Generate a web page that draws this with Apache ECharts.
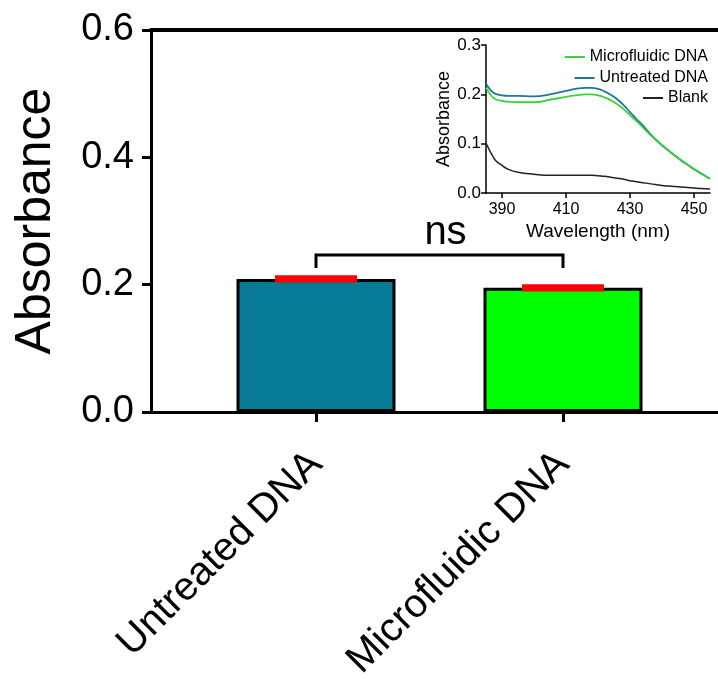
<!DOCTYPE html>
<html>
<head>
<meta charset="utf-8">
<script src="https://cdn.jsdelivr.net/npm/echarts@6/dist/echarts.min.js"></script>
<style>
  html, body { margin: 0; padding: 0; background: #fff; }
  #chart { width: 718px; height: 679px; }
</style>
</head>
<body>
<div id="chart"></div>
<script>
// bar chart data
const categories = ["Untreated DNA", "Microfluidic DNA"];
const barMeans = [0.209, 0.195];
const barErrors = [0.0025, 0.0025];
const barColors = ["#077b96", "#00ff00"];
const yTicks = [0, 0.2, 0.4, 0.6];
// significance bracket: [fromIndex, toIndex, topLevel, footLevel, label]
const bracket = [1, 2, 0.2466, 0.226, "ns"];

// inset spectra
const wavelengths = [385, 386, 387, 388, 390, 392, 395, 400, 405, 410, 413, 416, 418, 420, 422, 424,
  426, 428, 430, 432, 434, 436, 438, 440, 442, 444, 446, 448, 450, 452, 455];
const untreated = [0.222, 0.212, 0.205, 0.201, 0.198, 0.197, 0.197, 0.196, 0.200, 0.207, 0.211, 0.213,
  0.213, 0.211, 0.206, 0.199, 0.190, 0.178, 0.164, 0.150, 0.137, 0.122, 0.109, 0.097, 0.086, 0.076,
  0.066, 0.057, 0.048, 0.040, 0.029];
const microfluidic = [0.213, 0.203, 0.195, 0.190, 0.187, 0.185, 0.184, 0.184, 0.189, 0.195, 0.198, 0.200,
  0.200, 0.198, 0.194, 0.188, 0.180, 0.170, 0.158, 0.146, 0.133, 0.120, 0.108, 0.096, 0.086, 0.076,
  0.067, 0.058, 0.049, 0.041, 0.029];
const blank = [0.101, 0.088, 0.076, 0.066, 0.056, 0.048, 0.042, 0.038, 0.036, 0.036, 0.036, 0.036,
  0.036, 0.035, 0.034, 0.032, 0.030, 0.028, 0.025, 0.023, 0.021, 0.019, 0.017, 0.015, 0.014, 0.013,
  0.012, 0.011, 0.010, 0.009, 0.008];
const insetXTicks = [390, 410, 430, 450];

const font = "Liberation Sans, Arial, sans-serif";
const catPos = categories.map((c, i) => i + 1);

const chart = echarts.init(document.getElementById("chart"), null, { renderer: "canvas" });

const pair = (ys) => wavelengths.map((w, i) => [w, ys[i]]);

const legendItem = (name, top) => ({
  data: [name], right: 5, top: top,
  icon: "rect", itemWidth: 20, itemHeight: 2,
  textStyle: { fontSize: 16, color: "#000", fontFamily: font },
});

const option = {
  animation: false,
  backgroundColor: "#fff",
  textStyle: { fontFamily: font, color: "#000" },
  grid: [
    { left: 151, top: 30, right: 0, bottom: 267, outerBoundsMode: "none", containLabel: false },
    { left: 486, top: 45, width: 224, height: 148, outerBoundsMode: "none", containLabel: false },
  ],
  xAxis: [
    {
      type: "value",
      gridIndex: 0,
      min: 0.332,
      max: 2.6275,
      splitLine: { show: false },
      axisLine: { lineStyle: { color: "#000", width: 3 } },
      axisTick: { customValues: catPos, length: 10, lineStyle: { color: "#000", width: 3 } },
      axisLabel: {
        customValues: catPos,
        formatter: (v) => categories[Math.round(v) - 1] || "",
        rotate: 45,
        margin: 46,
        fontSize: 40,
        color: "#000",
        fontFamily: font,
      },
    },
    {
      type: "value",
      gridIndex: 0,
      position: "top",
      min: 0.332,
      max: 2.6275,
      splitLine: { show: false },
      axisLine: { lineStyle: { color: "#000", width: 4 } },
      axisTick: { show: false },
      axisLabel: { show: false },
    },
    {
      type: "value",
      gridIndex: 1,
      min: 385,
      max: 455,
      splitLine: { show: false },
      axisLine: { lineStyle: { color: "#000", width: 1.5 } },
      axisTick: { customValues: insetXTicks, length: 5, lineStyle: { color: "#000", width: 1.5 } },
      axisLabel: { customValues: insetXTicks, fontSize: 16, margin: 9, color: "#000", fontFamily: font },
      name: "Wavelength (nm)",
      nameLocation: "middle",
      nameGap: 29,
      nameTextStyle: { fontSize: 19, color: "#000", fontFamily: font },
    },
  ],
  yAxis: [
    {
      type: "value",
      gridIndex: 0,
      min: 0,
      max: 0.6,
      interval: 0.2,
      splitLine: { show: false },
      axisLine: { show: true, lineStyle: { color: "#000", width: 3 } },
      axisTick: { show: true, length: 9, lineStyle: { color: "#000", width: 3 } },
      axisLabel: {
        formatter: (v) => v.toFixed(1),
        fontSize: 38,
        margin: 17,
        color: "#000",
        fontFamily: font,
      },
      name: "Absorbance",
      nameLocation: "middle",
      nameGap: 90,
      nameTextStyle: { fontSize: 50, color: "#000", fontFamily: font },
    },
    {
      type: "value",
      gridIndex: 1,
      min: 0,
      max: 0.3,
      interval: 0.1,
      splitLine: { show: false },
      axisLine: { show: true, lineStyle: { color: "#000", width: 1.5 } },
      axisTick: { show: true, length: 5, lineStyle: { color: "#000", width: 1.5 } },
      axisLabel: {
        formatter: (v) => v.toFixed(1),
        fontSize: 17,
        margin: 5,
        color: "#000",
        fontFamily: font,
      },
      name: "Absorbance",
      nameLocation: "middle",
      nameGap: 26,
      nameTextStyle: { fontSize: 18, color: "#000", fontFamily: font },
    },
  ],
  legend: [
    legendItem("Microfluidic DNA", 44),
    legendItem("Untreated DNA", 65),
    legendItem("Blank", 85),
  ],
  series: [
    {
      type: "bar",
      xAxisIndex: 0,
      yAxisIndex: 0,
      barWidth: 159,
      data: catPos.map((x, i) => ({
        value: [x, barMeans[i]],
        itemStyle: { color: barColors[i], borderColor: "#000", borderWidth: 3 },
      })),
      z: 2,
    },
    {
      type: "custom",
      xAxisIndex: 0,
      yAxisIndex: 0,
      z: 5,
      data: catPos.map((x, i) => [x, barMeans[i] + barErrors[i], barMeans[i] - barErrors[i]]),
      renderItem: (params, api) => {
        const hi = api.coord([api.value(0), api.value(1)]);
        const lo = api.coord([api.value(0), api.value(2)]);
        const half = 41;
        const style = { stroke: "#ff0000", lineWidth: 4 };
        return {
          type: "group",
          children: [
            { type: "line", shape: { x1: hi[0] - half, y1: hi[1], x2: hi[0] + half, y2: hi[1] }, style },
            { type: "line", shape: { x1: lo[0] - half, y1: lo[1], x2: lo[0] + half, y2: lo[1] }, style },
            { type: "line", shape: { x1: hi[0], y1: hi[1], x2: lo[0], y2: lo[1] }, style: { stroke: "#ff0000", lineWidth: 1.5 } },
          ],
        };
      },
    },
    {
      type: "custom",
      xAxisIndex: 0,
      yAxisIndex: 0,
      z: 5,
      data: [bracket],
      renderItem: (params, api) => {
        const a = api.coord([api.value(0), api.value(3)]);
        const b = api.coord([api.value(0), api.value(2)]);
        const c = api.coord([api.value(1), api.value(2)]);
        const d = api.coord([api.value(1), api.value(3)]);
        const mid = api.coord([(api.value(0) + api.value(1)) / 2, api.value(2)]);
        return {
          type: "group",
          children: [
            {
              type: "polyline",
              shape: { points: [a, b, c, d] },
              style: { stroke: "#000", lineWidth: 3, fill: null },
            },
            {
              type: "text",
              x: mid[0] + 6,
              y: mid[1] - 2,
              style: {
                text: bracket[4],
                fontSize: 40,
                fontFamily: font,
                fill: "#000",
                align: "center",
                verticalAlign: "bottom",
              },
            },
          ],
        };
      },
    },
    {
      name: "Untreated DNA",
      type: "line",
      xAxisIndex: 2,
      yAxisIndex: 1,
      data: pair(untreated),
      smooth: true,
      symbol: "none",
      lineStyle: { color: "#1f7798", width: 1.8 },
      itemStyle: { color: "#1f7798" },
    },
    {
      name: "Microfluidic DNA",
      type: "line",
      xAxisIndex: 2,
      yAxisIndex: 1,
      data: pair(microfluidic),
      smooth: true,
      symbol: "none",
      lineStyle: { color: "#3ad33a", width: 1.8 },
      itemStyle: { color: "#3ad33a" },
    },
    {
      name: "Blank",
      type: "line",
      xAxisIndex: 2,
      yAxisIndex: 1,
      data: pair(blank),
      smooth: true,
      symbol: "none",
      lineStyle: { color: "#222", width: 1.5 },
      itemStyle: { color: "#222" },
    },
  ],
};

chart.setOption(option);
</script>
</body>
</html>
